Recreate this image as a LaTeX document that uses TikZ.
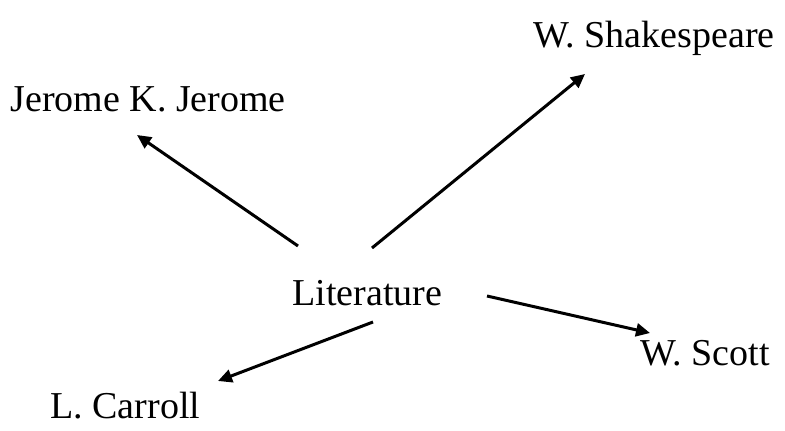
\documentclass[tikz,border=0pt]{standalone}
\usepackage{fontspec}
\setmainfont{Liberation Serif}
\usetikzlibrary{arrows.meta}
\begin{document}
\begin{tikzpicture}[x=0.5pt,y=-0.5pt,
  lbl/.style={anchor=base west,inner sep=0pt,font=\fontsize{19}{23}\selectfont},
  arr/.style={line width=1.5pt,-{Triangle[length=7pt,width=6.5pt]}}]
\useasboundingbox (0,0) rectangle (785,431);
\node[lbl] (lit) at (292,306) {Literature};
\node[lbl] (shk) at (533,48) {W. Shakespeare};
\node[lbl] (jer) at (10,112) {Jerome K. Jerome};
\node[lbl] (sco) at (640,366) {W. Scott};
\node[lbl] (car) at (50,419) {L. Carroll};
\coordinate (a1) at (298,246); \coordinate (b1) at (137,135);
\coordinate (a2) at (372,248); \coordinate (b2) at (585,74);
\coordinate (a3) at (373,322); \coordinate (b3) at (218,381);
\coordinate (a4) at (487,296); \coordinate (b4) at (650,333);
\draw[arr] (a1) -- (b1);
\draw[arr] (a2) -- (b2);
\draw[arr] (a3) -- (b3);
\draw[arr] (a4) -- (b4);
\end{tikzpicture}
\end{document}
